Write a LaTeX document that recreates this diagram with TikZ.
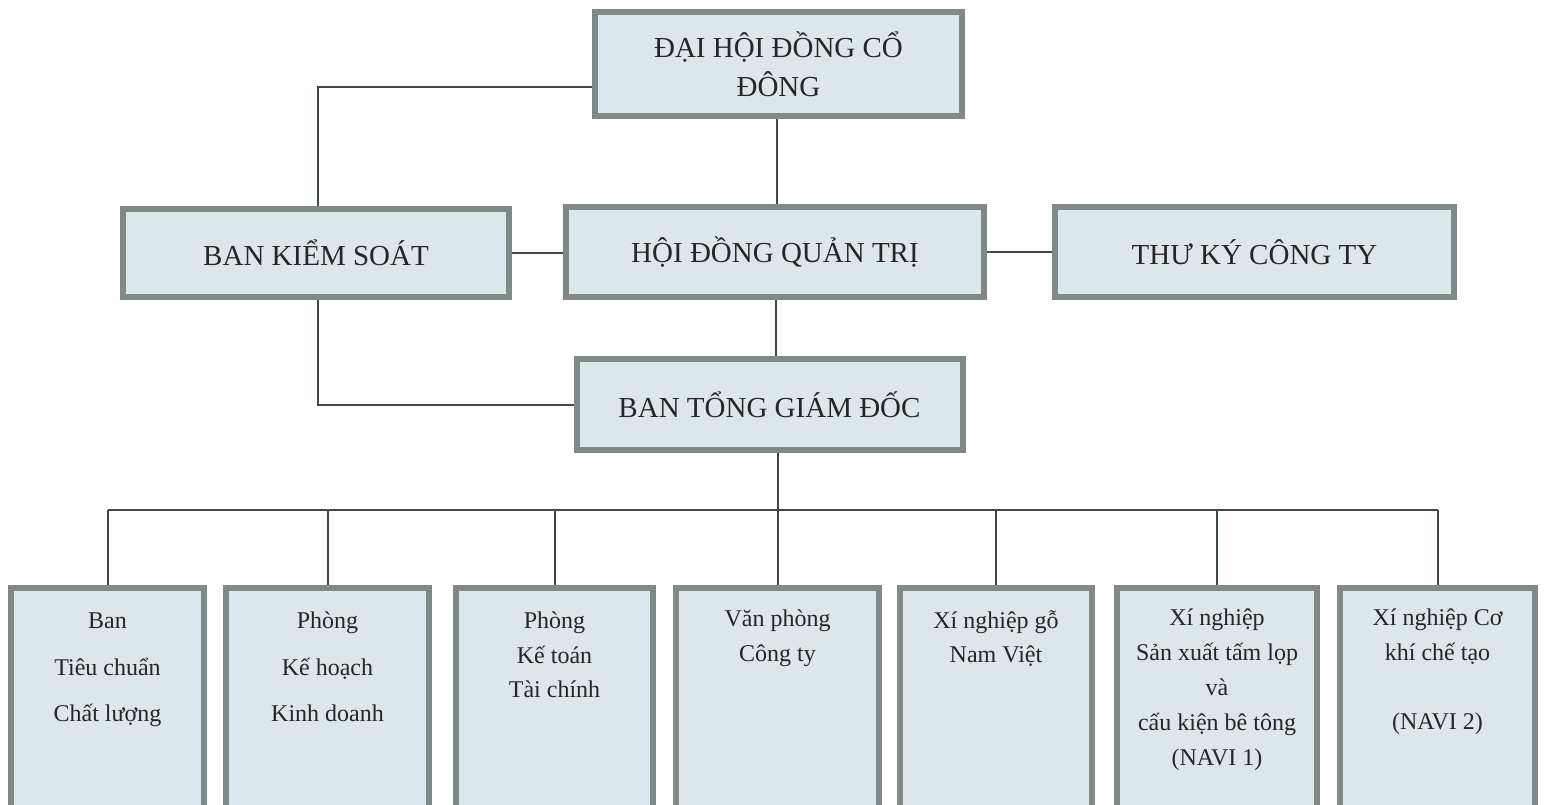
\documentclass[tikz,border=0pt]{standalone}
\usepackage{fontspec}
\setmainfont{Liberation Serif}
\definecolor{boxfill}{HTML}{DDE6EA}
\definecolor{boxedge}{HTML}{7F8A88}
\definecolor{conn}{HTML}{3D4A47}
\definecolor{txt}{HTML}{262626}
\tikzset{
  box/.style={draw=boxedge, line width=6pt, fill=boxfill, inner sep=0pt, text=txt, align=center},
  topbox/.style={box, font=\fontsize{29}{39}\selectfont},
  lowbox/.style={box, minimum width=192pt, minimum height=228pt},
  lowtext/.style={anchor=north, align=center, text=txt, inner sep=0pt},
  conn/.style={draw=conn, line width=2pt}
}
\begin{document}
\begin{tikzpicture}[x=1pt,y=-1pt]
\useasboundingbox (0,0) rectangle (1544,804);
\clip (0,0) rectangle (1544,804);
% top level
\node[topbox, minimum width=367pt, minimum height=104pt] (dh) at (778.5,64) {ĐẠI HỘI ĐỒNG CỔ\\ĐÔNG};
\node[topbox, minimum width=386pt, minimum height=88pt] (bks) at (316,253) {BAN KIỂM SOÁT};
\node[topbox, minimum width=418pt, minimum height=90pt] (hd) at (775,252) {HỘI ĐỒNG QUẢN TRỊ};
\node[topbox, minimum width=399pt, minimum height=90pt] (tk) at (1254.5,252) {THƯ KÝ CÔNG TY};
\node[topbox, minimum width=386pt, minimum height=91pt] (tg) at (769.5,404.5) {BAN TỔNG GIÁM ĐỐC};
% bottom boxes
\node[lowbox, minimum width=193pt] (b1) at (107.5,702) {};
\node[lowbox, minimum width=203pt] (b2) at (327.5,702) {};
\node[lowbox, minimum width=197pt] (b3) at (554.5,702) {};
\node[lowbox, minimum width=203pt] (b4) at (777.5,702) {};
\node[lowbox, minimum width=192pt] (b5) at (996,702) {};
\node[lowbox, minimum width=200pt] (b6) at (1217,702) {};
\node[lowbox, minimum width=195pt] (b7) at (1437.5,702) {};
\node[lowtext, font=\fontsize{24}{46.5}\selectfont] (t1) at ([yshift=-28pt]b1.north) {Ban\\Tiêu chuẩn\\Chất lượng};
\node[lowtext, font=\fontsize{24}{46.5}\selectfont] (t2) at ([yshift=-27pt]b2.north) {Phòng\\Kế hoạch\\Kinh doanh};
\node[lowtext, font=\fontsize{24}{34.5}\selectfont] (t3) at ([yshift=-27pt]b3.north) {Phòng\\Kế toán\\Tài chính};
\node[lowtext, font=\fontsize{24}{34.5}\selectfont] (t4) at ([yshift=-25pt]b4.north) {Văn phòng\\Công ty};
\node[lowtext, font=\fontsize{24}{34.5}\selectfont] (t5) at ([yshift=-25pt]b5.north) {Xí nghiệp gỗ\\Nam Việt};
\node[lowtext, font=\fontsize{24}{35}\selectfont] (t6) at ([yshift=-24pt]b6.north) {Xí nghiệp\\Sản xuất tấm lọp\\và\\cấu kiện bê tông\\(NAVI 1)};
\node[lowtext, font=\fontsize{24}{34.5}\selectfont] (t7) at ([yshift=-24pt]b7.north) {Xí nghiệp Cơ\\khí chế tạo\\[34.5pt](NAVI 2)};
% connectors
\coordinate (bus) at (0,510);
\draw[conn] ([yshift=-23pt]dh.west) -| ([xshift=2pt]bks.north);
\draw[conn] ([xshift=-1.5pt]dh.south) -- ([xshift=-1.5pt]dh.south |- hd.north);
\draw[conn] (bks.east) -- (bks.east -| hd.west);
\draw[conn] (hd.east) -- (tk.west);
\draw[conn] ([xshift=1pt]hd.south) -- ([xshift=1pt]hd.south |- tg.north);
\draw[conn] ([xshift=2pt]bks.south) |- (tg.west);
\draw[conn] (b4.north |- tg.south) -- (b4.north);
\draw[conn] (b1.north |- bus) -- (b7.north |- bus);
\foreach \b in {b1,b2,b3,b5,b6,b7} {
  \draw[conn] (\b.north |- bus) -- (\b.north);
}
\end{tikzpicture}
\end{document}
